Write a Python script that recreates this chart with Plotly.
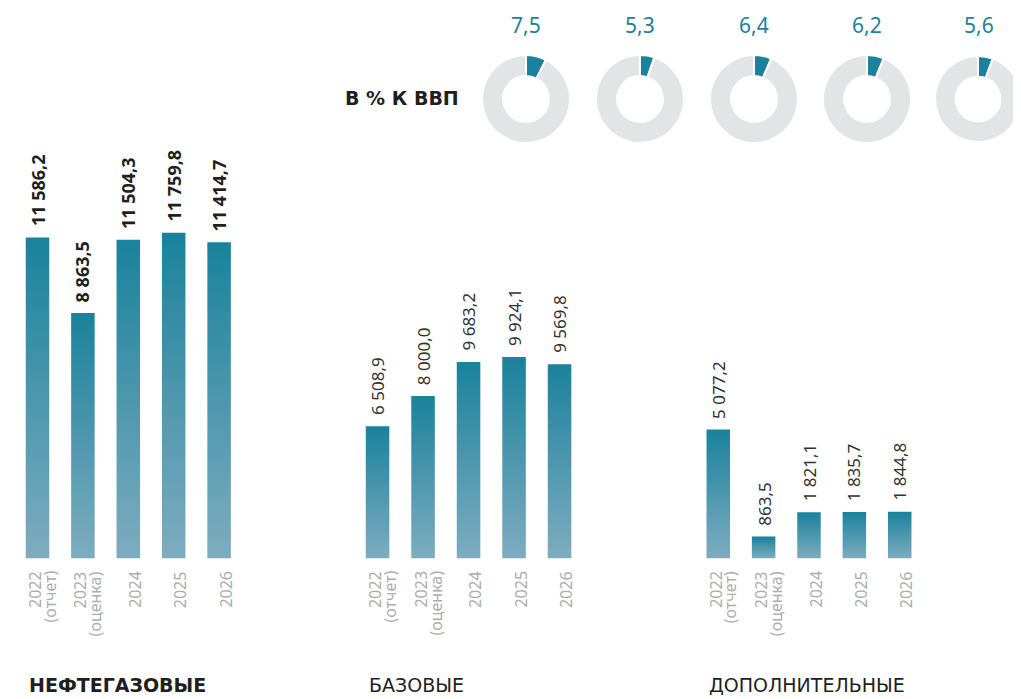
import plotly.graph_objects as go

# ---------------- data ----------------
years = ["2022", "2023", "2024", "2025", "2026"]
year_notes = ["(отчет)", "(оценка)", "", "", ""]
oil_gas = [11586.2, 8863.5, 11504.3, 11759.8, 11414.7]
base_rev = [6508.9, 8000.0, 9683.2, 9924.1, 9569.8]
additional = [5077.2, 863.5, 1821.1, 1835.7, 1844.8]
gdp_share = [7.5, 5.3, 6.4, 6.2, 5.6]
group_names = ["НЕФТЕГАЗОВЫЕ", "БАЗОВЫЕ", "ДОПОЛНИТЕЛЬНЫЕ"]
gdp_title = "В % К ВВП"

# ---------------- styling / layout ----------------
WIN_W, WIN_H = 1021, 699
OFF = 8  # default page body margin
W, H = WIN_W - OFF, WIN_H - OFF
DARK = "#1a829c"
LIGHT = "#7eacbf"
GRAY_RING = "#e3e4e6"
FONT = "Noto Sans"
TITLE_FONT = "DejaVu Sans"


def px(x):
    return (x - OFF) / W


def py(y):
    return (H - (y - OFF)) / H


groups = [
    dict(values=oil_gas, xdom=(14.8, 241.8), ymax=20162, bold=True, color="#1f1f1f"),
    dict(values=base_rev, xdom=(354.8, 582.3), ymax=27512, bold=False, color="#333333"),
    dict(values=additional, xdom=(695.6, 922.4), ymax=22000, bold=False, color="#333333"),
]
title_x = [27, 367, 707]
baseline_px = 558.5
half_w = 0.259


def fmt(v):
    return f"{v:,.1f}".replace(",", " ").replace(".", ",")


fig = go.Figure()
annotations = []

for gi, g in enumerate(groups):
    sfx = "" if gi == 0 else str(gi + 1)
    xref, yref = "x" + sfx, "y" + sfx
    for i, v in enumerate(g["values"]):
        fig.add_trace(go.Scatter(
            x=[i - half_w, i - half_w, i + half_w, i + half_w, i - half_w],
            y=[0, v, v, 0, 0],
            mode="lines",
            fill="toself",
            fillgradient=dict(type="vertical", start=0, stop=v,
                              colorscale=[[0, LIGHT], [1, DARK]]),
            line=dict(width=0, color="rgba(0,0,0,0)"),
            hoverinfo="skip",
            xaxis=xref, yaxis=yref, showlegend=False,
        ))
        # value label
        annotations.append(dict(
            x=i, y=v, xref=xref, yref=yref, text=fmt(v),
            textangle=-90, showarrow=False, xanchor="center", yanchor="bottom",
            yshift=9,
            font=dict(family=FONT, size=18 if g["bold"] else 17, color=g["color"],
                      weight="bold" if g["bold"] else "normal"),
        ))
        # category labels
        ty = py(569)
        if year_notes[i]:
            annotations.append(dict(
                x=i, y=ty, xref=xref, yref="paper", text=years[i], textangle=-90,
                showarrow=False, xanchor="center", yanchor="top", xshift=-3,
                font=dict(family=FONT, size=16, color="#adadad")))
            annotations.append(dict(
                x=i, y=ty, xref=xref, yref="paper", text=year_notes[i], textangle=-90,
                showarrow=False, xanchor="center", yanchor="top", xshift=12,
                font=dict(family=FONT, size=16, color="#adadad")))
        else:
            annotations.append(dict(
                x=i, y=ty, xref=xref, yref="paper", text=years[i], textangle=-90,
                showarrow=False, xanchor="center", yanchor="top", xshift=6,
                font=dict(family=FONT, size=16, color="#adadad")))
    # group title
    annotations.append(dict(
        x=px(title_x[gi]), y=py(685), xref="paper", yref="paper",
        text=group_names[gi], showarrow=False, xanchor="left", yanchor="middle",
        font=dict(family=TITLE_FONT, size=19, color="#1f1f1f",
                  weight="bold" if g["bold"] else "normal")))

    ax = dict(domain=[px(g["xdom"][0]), px(g["xdom"][1])], range=[-0.5, 4.5],
              visible=False, fixedrange=True)
    ay = dict(domain=[py(baseline_px), 1.0],
              range=[0, g["ymax"] * (baseline_px - OFF) / baseline_px],
              visible=False, fixedrange=True)
    if gi == 0:
        fig.update_layout(xaxis=ax, yaxis=ay)
    else:
        ax["anchor"] = "y" + sfx
        ay["anchor"] = "x" + sfx
        fig.update_layout(**{"xaxis" + sfx: ax, "yaxis" + sfx: ay})

# donuts
donut_cx = [526, 640, 754, 867, 979]
R = 44
for cx, share in zip(donut_cx, gdp_share):
    x0 = max(0.0, px(cx - R))
    x1 = min(1.0, px(cx + R))
    fig.add_trace(go.Pie(
        values=[share, 100 - share], sort=False, direction="clockwise", rotation=0,
        hole=0.52, textinfo="none", hoverinfo="skip",
        marker=dict(colors=[DARK, GRAY_RING], line=dict(color="white", width=2)),
        domain=dict(x=[x0, x1], y=[py(143), py(55)]),
        showlegend=False,
    ))
    annotations.append(dict(
        x=px(cx), y=py(25), xref="paper", yref="paper",
        text=f"{share:.1f}".replace(".", ","),
        showarrow=False, xanchor="center", yanchor="middle",
        font=dict(family=FONT, size=21, color=DARK)))

annotations.append(dict(
    x=px(343), y=py(98), xref="paper", yref="paper", text=gdp_title,
    showarrow=False, xanchor="left", yanchor="middle",
    font=dict(family=TITLE_FONT, size=19, color="#1f1f1f", weight="bold")))

fig.update_layout(
    width=W, height=H, margin=dict(l=0, r=0, t=0, b=0),
    paper_bgcolor="white", plot_bgcolor="white",
    showlegend=False, annotations=annotations,
)

fig.write_html("out.html")
